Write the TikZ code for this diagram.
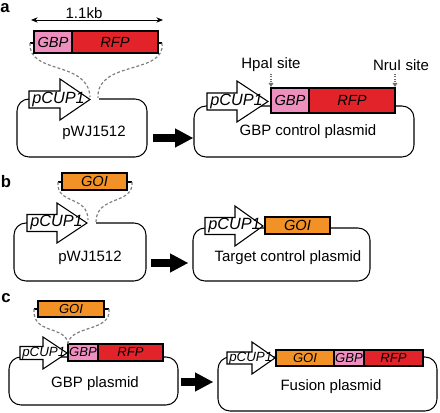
\documentclass[tikz,border=0pt]{standalone}
\usepackage{fontspec}
\setmainfont{Liberation Sans}
\usepackage{xcolor}
\usepackage{tikz}
\usetikzlibrary{arrows.meta}

\begin{document}
\begin{tikzpicture}[x=0.75pt,y=0.75pt,yscale=-1,xscale=1,
	plasmid/.style={line width=0.8pt, rounded corners=9pt},
	promoter/.style={fill=white, line width=0.8pt},
	gbp/.style={fill={rgb, 255:red, 238; green, 143; blue, 192}, line width=0.8pt},
	rfp/.style={fill={rgb, 255:red, 226; green, 35; blue, 42}, line width=0.8pt},
	goi/.style={fill={rgb, 255:red, 242; green, 146; blue, 38}, line width=0.8pt},
	genetext/.style={inner sep=0.75pt, font=\fontsize{11}{12}\selectfont\itshape},
	genesmall/.style={inner sep=0.75pt, font=\fontsize{9.8}{11}\selectfont\itshape},
	protext/.style={inner sep=0pt, anchor=west, font=\fontsize{12.2}{13}\selectfont\itshape},
	prosmall/.style={inner sep=0pt, anchor=west, font=\fontsize{10}{11}\selectfont\itshape},
	label/.style={inner sep=0.75pt, font=\fontsize{11.25}{13}\selectfont},
	panel/.style={inner sep=0pt, font=\fontsize{12.5}{13}\selectfont\bfseries},
	insline/.style={draw={rgb, 255:red, 128; green, 128; blue, 128}, dash pattern=on 2.2pt off 1.6pt, line width=0.9pt},
	siteline/.style={draw={rgb, 255:red, 110; green, 110; blue, 110}, densely dotted, line width=0.8pt, -{Triangle[length=3pt,width=3.5pt]}},
	bigarrow/.style={line width=6pt, -{Triangle[length=13.5pt,width=14.5pt,line width=0pt]}}
	]
	\useasboundingbox (0,0) rectangle (440,413);
	
	%%%%% panel a
	% Text Node
	\node [panel] (lblA) at (5,8) {a};
	%Shape: size arrow
	\coordinate (kbL) at (31,20);
	\coordinate (kbR) at (163,20);
	\draw [line width=0.6pt, {Stealth[length=5pt,width=4pt]}-{Stealth[length=5pt,width=4pt]}] (kbL) -- (kbR);
	% Text Node
	\node [label] (kbText) at (84,13) {1.1kb};
	
	%Shape: insert GBP-RFP
	\coordinate (insAl) at (30,43);
	\coordinate (insAr) at (162,43);
	\draw [line width=0.8pt] (insAl) -- (34,43) (158,43) -- (insAr);
	\draw [gbp] (34,31) rectangle (72,53);
	\draw [rfp] (72,31) rectangle (158,53);
	\node [genetext] (gbpInsA) at (53,42) {GBP};
	\node [genetext] (rfpInsA) at (115,42) {RFP};
	
	%Shape: plasmid pWJ1512
	\draw [plasmid] (99,99) -- (147,99) -- (147,157) -- (17,157) -- (17,99) -- (40,99);
	\draw [promoter] (29,91) -- (60,91) -- (60,79) -- (90,99.5) -- (60,120) -- (60,108) -- (29,108) -- cycle;
	\node [protext] (proA) at (32,99.5) {pCUP1};
	\node [label] (pwjA) at (94,133) {pWJ1512};
	
	%Curve Lines: insertion
	\coordinate (cutAl) at (90,97);
	\coordinate (cutAr) at (98,98);
	\draw [insline] (insAl) .. controls (28,75) and (88,60) .. (cutAl);
	\draw [insline] (insAr) .. controls (166,75) and (96,60) .. (cutAr);
	
	%Shape: arrow a
	\coordinate (fromA) at (153,138);
	\coordinate (toA) at (193,138);
	\draw [bigarrow] (fromA) -- (toA);
	
	%Shape: GBP control plasmid
	\draw [plasmid] (194,106) rectangle (414,157);
	\draw [promoter] (207,93) -- (237,93) -- (237,81) -- (268,101.5) -- (237,122) -- (237,110) -- (207,110) -- cycle;
	\node [protext] (proA2) at (210,101.5) {pCUP1};
	\draw [gbp] (271,88) rectangle (309,113);
	\draw [rfp] (309,88) rectangle (395,113);
	\node [genetext] (gbpA2) at (290,100.5) {GBP};
	\node [genetext] (rfpA2) at (352,100.5) {RFP};
	\node [label] (ctrlA) at (308,132) {GBP control plasmid};
	
	%Shape: sites
	\coordinate (hpaTop) at (271,74);
	\coordinate (hpaBot) at (271,87);
	\coordinate (nruTop) at (395,74);
	\coordinate (nruBot) at (395,87);
	\draw [siteline] (hpaTop) -- (hpaBot);
	\draw [siteline] (nruTop) -- (nruBot);
	\node [label] (hpaText) at (271,65) {HpaI site};
	\node [label] (nruText) at (401,65) {NruI site};
	
	%%%%% panel b
	\node [panel] (lblB) at (6,182) {b};
	
	%Shape: insert GOI
	\coordinate (insBl) at (58,182);
	\coordinate (insBr) at (132,182);
	\draw [line width=0.8pt] (insBl) -- (62,182) (127,182) -- (insBr);
	\draw [goi] (62,173) rectangle (127,190);
	\node [genetext] (goiInsB) at (94.5,181.5) {GOI};
	
	%Shape: plasmid pWJ1512
	\draw [plasmid] (96,223) -- (146,223) -- (146,281) -- (14,281) -- (14,223) -- (40,223);
	\draw [promoter] (27,214.5) -- (57,214.5) -- (57,203) -- (87,223) -- (57,243) -- (57,231.5) -- (27,231.5) -- cycle;
	\node [protext] (proB) at (30,223) {pCUP1};
	\node [label] (pwjB) at (90,258) {pWJ1512};
	
	%Curve Lines: insertion
	\coordinate (cutBl) at (88,220);
	\coordinate (cutBr) at (96,222);
	\draw [insline] (insBl) .. controls (56,205) and (88,195) .. (cutBl);
	\draw [insline] (insBr) .. controls (134,205) and (96,195) .. (cutBr);
	
	%Shape: arrow b
	\coordinate (fromB) at (151,263);
	\coordinate (toB) at (188,263);
	\draw [bigarrow] (fromB) -- (toB);
	
	%Shape: Target control plasmid
	\draw [plasmid] (193,228) rectangle (370,281);
	\draw [promoter] (205,217.5) -- (235,217.5) -- (235,206) -- (263,226) -- (235,246) -- (235,234.5) -- (205,234.5) -- cycle;
	\node [protext] (proB2) at (208,226) {pCUP1};
	\draw [goi] (265,217) rectangle (330,234);
	\node [genetext] (goiB2) at (297.5,225.5) {GOI};
	\node [label] (ctrlB) at (288,258) {Target control plasmid};
	
	%%%%% panel c
	\node [panel] (lblC) at (6,298) {c};
	
	%Shape: insert GOI
	\coordinate (insCl) at (34,309);
	\coordinate (insCr) at (109,309);
	\draw [line width=0.8pt] (insCl) -- (38,309) (104,309) -- (insCr);
	\draw [goi] (38,301) rectangle (104,317);
	\node [genesmall] (goiInsC) at (71,309) {GOI};
	
	%Shape: GBP plasmid
	\draw [plasmid] (9,357) rectangle (178,405);
	\draw [promoter] (20,346.5) -- (43,346.5) -- (43,337) -- (67,353) -- (43,369) -- (43,359.5) -- (20,359.5) -- cycle;
	\node [prosmall] (proC) at (22,353) {pCUP1};
	\draw [gbp] (68,344) rectangle (98,361);
	\draw [rfp] (98,344) rectangle (163,361);
	\node [genesmall] (gbpC) at (83,352.5) {GBP};
	\node [genesmall] (rfpC) at (130.5,352.5) {RFP};
	\node [label] (gbpPl) at (95,384) {GBP plasmid};
	
	%Curve Lines: insertion
	\coordinate (cutC) at (68,344);
	\draw [insline] (insCl) .. controls (32,335) and (66,325) .. (cutC);
	\draw [insline] (insCr) .. controls (112,332) and (70,325) .. (cutC);
	
	%Shape: arrow c
	\coordinate (fromC) at (181,382);
	\coordinate (toC) at (213,382);
	\draw [bigarrow] (fromC) -- (toC);
	
	%Shape: Fusion plasmid
	\draw [plasmid] (218,357) rectangle (437,411);
	\draw [promoter] (227,352) -- (252,352) -- (252,342) -- (275,358) -- (252,374) -- (252,364) -- (227,364) -- cycle;
	\node [prosmall] (proC2) at (229,358) {pCUP1};
	\draw [goi] (276,350) rectangle (334,366);
	\draw [gbp] (334,350) rectangle (364,366);
	\draw [rfp] (364,350) rectangle (423,366);
	\node [genesmall] (goiC2) at (305,358) {GOI};
	\node [genesmall] (gbpC2) at (349,358) {GBP};
	\node [genesmall] (rfpC2) at (393.5,358) {RFP};
	\node [label] (fusPl) at (331,387) {Fusion plasmid};
\end{tikzpicture}
\end{document}
